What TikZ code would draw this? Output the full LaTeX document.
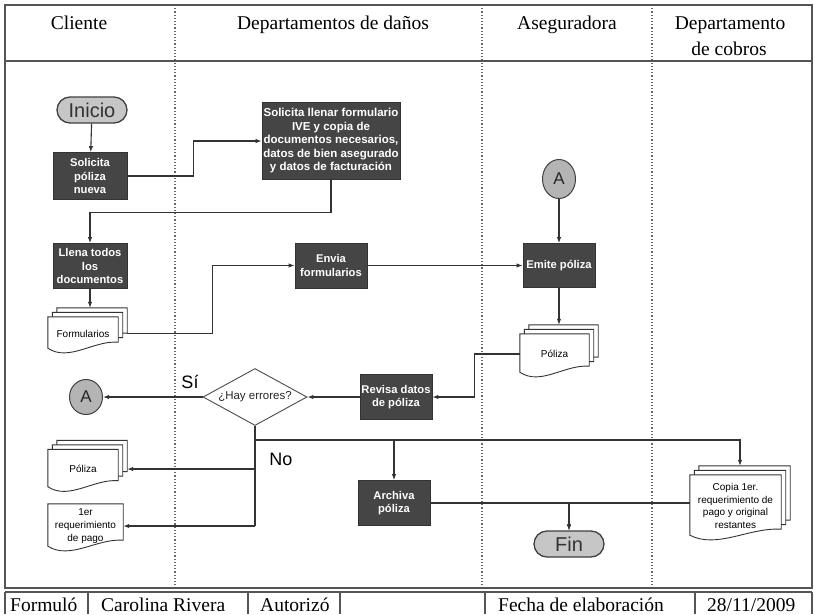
\documentclass[tikz,border=0pt]{standalone}
\usepackage{fontspec}
\setmainfont{Liberation Serif}
\newfontfamily\arialfont{Liberation Sans}
\usetikzlibrary{arrows.meta,shapes.geometric,calc}

\pgfdeclarelayer{background}
\pgfdeclarelayer{pages}
\pgfsetlayers{background,pages,main}

\definecolor{procfill}{HTML}{454545}
\definecolor{termfill}{HTML}{C6C6C6}
\definecolor{connfill}{HTML}{B4B4B4}
\definecolor{linegray}{HTML}{333333}
\definecolor{framegray}{HTML}{555555}

\tikzset{
  flow/.style={draw=linegray, line width=1.1pt},
  flowarrow/.style={flow, -{Latex[length=6pt,width=4.5pt]}},
  process/.style={rectangle, draw=black!80, line width=0.8pt, fill=procfill,
    text=white, font=\arialfont\bfseries\fontsize{11.2}{13.5}\selectfont,
    align=center, inner sep=0pt},
  terminal/.style={rectangle, rounded corners=13pt, draw=black!75, line width=1.3pt,
    fill=termfill, text=black!80, font=\arialfont\fontsize{20}{22}\selectfont,
    minimum width=70pt, minimum height=26pt, inner sep=0pt},
  connector/.style={ellipse, draw=black!75, line width=1pt, fill=connfill,
    text=black!85, font=\arialfont\fontsize{17}{19}\selectfont, inner sep=0pt,
    minimum width=33pt},
  decision/.style={diamond, draw=black!70, line width=0.9pt, fill=white,
    aspect=1.82, inner sep=0pt, minimum width=104pt, minimum height=57pt,
    font=\arialfont\fontsize{11.5}{13}\selectfont, text=black!85},
  docpage/.style={rectangle, inner sep=0pt, align=center, text=black,
    font=\arialfont\fontsize{10}{12.7}\selectfont},
  docline/.style={draw=black!80, line width=0.9pt, fill=white},
  lane/.style={draw=black!60, line width=1.2pt, dotted},
  frameline/.style={draw=framegray, line width=1.4pt},
  head/.style={font=\fontsize{19.5}{24}\selectfont, anchor=base, inner sep=0pt},
  foot/.style={font=\fontsize{19.5}{24}\selectfont, anchor=base west, inner sep=0pt},
  branchlbl/.style={font=\arialfont\fontsize{18}{20}\selectfont, inner sep=0pt},
}

% one sheet of a document symbol, shifted up and right by #2;
% the wavy lower edge dips left of centre and rises towards the right
\newcommand{\docsheet}[2]{%
  \path[docline] let \p1=(#1.north west), \p2=(#1.south east) in
    (\x1+#2,\y1+#2) -- (\x2+#2,\y1+#2) -- (\x2+#2,\y2+#2+8pt)
    .. controls (\x1+#2+0.65*\x2-0.65*\x1,\y2+#2+10pt)
       and (\x1+#2+0.3*\x2-0.3*\x1,\y2+#2-12pt) .. (\x1+#2,\y2+#2+2pt) -- cycle;}
% a stack of three sheets
\newcommand{\docstack}[1]{\docsheet{#1}{9pt}\docsheet{#1}{4.5pt}\docsheet{#1}{0pt}}

\begin{document}
\begin{tikzpicture}[x=1pt,y=-1pt]
\useasboundingbox (0,0) rectangle (814,614);
\begin{pgfonlayer}{background}
  \fill[white] (0,0) rectangle (814,614);
  % swimlane frame
  \draw[lane] (175,5) -- (175,588);
  \draw[lane] (482,5) -- (482,588);
  \draw[lane] (652,5) -- (652,588);
  \draw[frameline] (5,5) rectangle (812,588);
  \draw[frameline] (5,61) -- (812,61);
  % signature row
  \draw[frameline] (5,592) -- (812,592);
  \foreach \xx in {5,88,248,340,485,695,812} \draw[frameline] (\xx,592) -- (\xx,614);
\end{pgfonlayer}

% lane titles
\node[head] (hcli) at (79,29) {Cliente};
\node[head] (hdan) at (333,29) {Departamentos de daños};
\node[head] (hase) at (567,29) {Aseguradora};
\node[head] (hcob1) at (730,29) {Departamento};
\node[head] (hcob2) at (729,55) {de cobros};

% signature row
\node[foot] (f1) at (10,611) {Formuló};
\node[foot] (f2) at (101,611) {Carolina Rivera};
\node[foot] (f3) at (260,611) {Autorizó};
\node[foot] (f4) at (498,611) {Fecha de elaboración};
\node[foot] (f5) at (707,611) {28/11/2009};

% flow nodes
\node[terminal] (ini) at (92,110) {Inicio};
\node[process, minimum width=74pt, minimum height=47pt] (sol) at (90,176) {Solicita\\póliza\\nueva};
\node[process, minimum width=138pt, minimum height=77pt, font=\arialfont\bfseries\fontsize{11.5}{13.5}\selectfont] (big) at (331,141)
  {Solicita llenar formulario\\IVE y copia de\\documentos necesarios,\\datos de bien asegurado\\y datos de facturación};
\node[process, minimum width=74pt, minimum height=45pt] (lle) at (90,266) {Llena todos\\los\\documentos};
\node[docpage, minimum width=70pt, minimum height=33pt] (form) at (83,333.5) {Formularios};
\node[process, minimum width=72pt, minimum height=45pt] (env) at (331,265.5) {Envia\\formularios};
\node[process, minimum width=72pt, minimum height=44pt] (emi) at (559,265.5) {Emite póliza};
\node[connector, minimum height=39pt] (atop) at (559,179) {A};
\node[docpage, minimum width=69pt, minimum height=40pt] (polr) at (554.5,354) {Póliza};
\node[process, minimum width=72pt, minimum height=45pt] (rev) at (396,397) {Revisa datos\\de póliza};
\node[decision] (dec) at (255,397) {¿Hay errores?};
\node[connector, minimum height=35pt] (alef) at (86,397) {A};
\node[docpage, minimum width=70pt, minimum height=39pt] (poll) at (83,469) {Póliza};
\node[docpage, minimum width=75pt, minimum height=44pt] (req) at (85.5,526) {1er\\requerimiento\\de pago};
\node[process, minimum width=72pt, minimum height=45pt] (arc) at (394,503) {Archiva\\póliza};
\node[terminal] (fin) at (569,544) {Fin};
\node[docpage, minimum width=91pt, minimum height=62pt] (cop) at (735.5,506)
  {Copia 1er.\\requerimiento de\\pago y original\\restantes};

\begin{pgfonlayer}{pages}
  \docstack{form}
  \docstack{polr}
  \docstack{poll}
  \docsheet{req}{0pt}
  \docstack{cop}
\end{pgfonlayer}

% branch labels
\node[branchlbl] (si) at (190,382) {Sí};
\node[branchlbl] (no) at (281,459) {No};

% connectors
\coordinate (formtop) at ([yshift=9pt]form.north);
\coordinate (polrtop) at ([yshift=9pt]polr.north);
\coordinate (coptop) at ([xshift=4.5pt,yshift=9pt]cop.north);
\coordinate (split) at ([yshift=-14pt]dec.south);

\draw[flowarrow] (ini) -- (sol);
\draw[flowarrow] (sol.east) -- ++(66,0) |- (big.west);
\draw[flowarrow] (big.south) -- ++(0,33) -| (lle.north);
\draw[flowarrow] (lle.south) -- (lle.south |- formtop);
\draw[flowarrow] ([xshift=9pt]form.east) -- ++(85,0) |- (env.west);
\draw[flowarrow] (env) -- (emi);
\draw[flowarrow] (atop) -- (emi);
\draw[flowarrow] (emi.south) -- (emi.south |- polrtop);
\draw[flowarrow] (polr.west) -- ++(-45,0) |- (rev.east);
\draw[flowarrow] (rev) -- (dec);
\draw[flowarrow] (dec) -- (alef);
\draw[flow] (dec.south) -- (dec.south |- req.east);
\draw[flowarrow] (dec.south |- poll.east) -- ([xshift=9pt]poll.east);
\draw[flowarrow] (dec.south |- req.east) -- (req.east);
\draw[flowarrow] (split) -| (coptop);
\draw[flowarrow] (arc.north |- split) -- (arc.north);
\draw[flowarrow] (arc.east) -| (fin.north);
\draw[flowarrow] (cop.west |- arc.east) -| (fin.north);
\end{tikzpicture}
\end{document}
